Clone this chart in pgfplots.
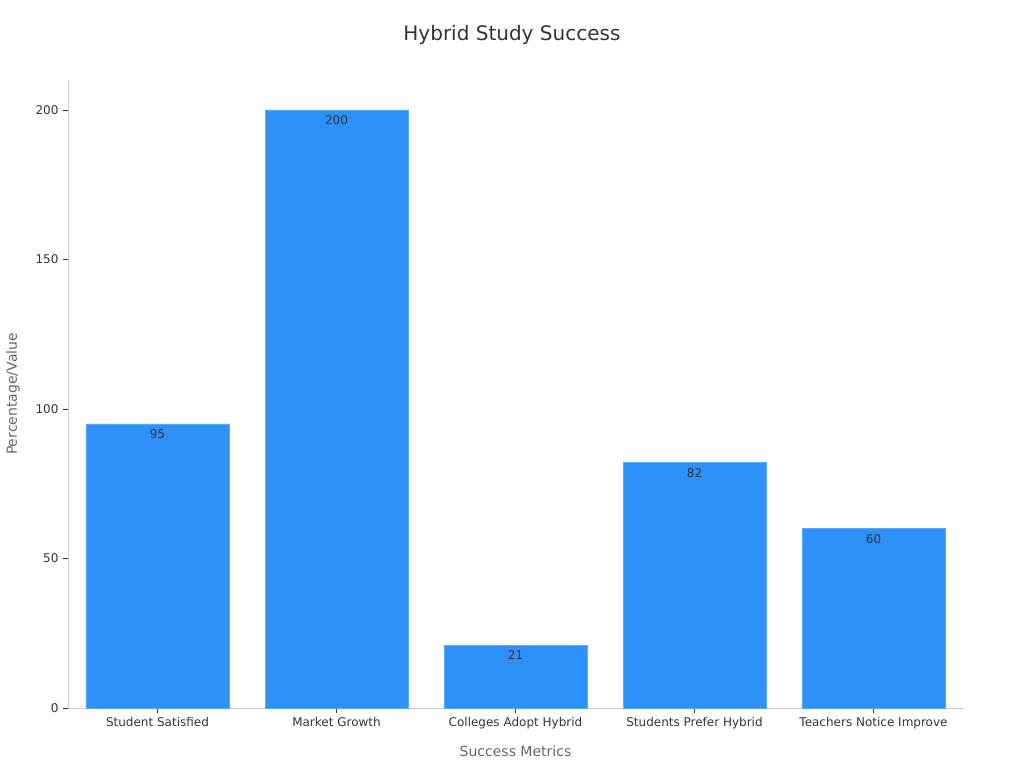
\documentclass[border=0pt]{standalone}
\usepackage{fontspec}
\setmainfont{DejaVu Sans}
\usepackage{pgfplots}
\pgfplotsset{compat=1.18}
\definecolor{barblue}{HTML}{2E91FA}
\definecolor{baredge}{HTML}{5AA8FB}
\definecolor{axisgray}{HTML}{CCCCCC}
\definecolor{labelgray}{HTML}{666666}
\definecolor{textdark}{HTML}{333333}
\begin{document}
\begin{tikzpicture}
\path[use as bounding box] (-68pt,-60pt) rectangle (956pt,708pt);
\begin{axis}[
    at={(0pt,0pt)}, anchor=south west,
    width=895pt, height=628pt,
    scale only axis,
    xmin=-0.5, xmax=4.5,
    ymin=0, ymax=210,
    axis x line*=bottom,
    axis y line*=left,
    axis line style={axisgray, line width=0.8pt},
    xtick=data,
    xticklabels={Student Satisfied, Market Growth, Colleges Adopt Hybrid, Students Prefer Hybrid, Teachers Notice Improve},
    ytick={0,50,100,150,200},
    tick align=outside,
    major tick length=5pt,
    tick style={textdark, line width=0.6pt},
    tick label style={font=\fontsize{12}{14}\selectfont, text=textdark},
    /pgf/number format/assume math mode=true,
    yticklabel style={xshift=-1pt},
    xticklabel style={yshift=-1pt},
    title={Hybrid Study Success},
    title style={font=\fontsize{20}{24}\selectfont, text=textdark, at={(axis description cs:0.496,1)}, anchor=center, yshift=39pt},
    xlabel={Success Metrics},
    xlabel style={font=\fontsize{14}{16}\selectfont, text=labelgray, at={(axis description cs:0.5,0)}, anchor=center, yshift=-43pt},
    ylabel={Percentage/Value},
    ylabel style={font=\fontsize{14}{16}\selectfont, text=labelgray, at={(axis description cs:0,0.5)}, anchor=center, yshift=55pt},
    nodes near coords,
    nodes near coords style={font=\fontsize{12}{14}\selectfont, text=textdark, anchor=north, yshift=-2pt},
    clip=false,
]
\addplot[ybar, bar width=143pt, fill=barblue, draw=baredge, line width=0.8pt]
    coordinates {(0,95) (1,200) (2,21) (3,82) (4,60)};
\end{axis}
\end{tikzpicture}
\end{document}
